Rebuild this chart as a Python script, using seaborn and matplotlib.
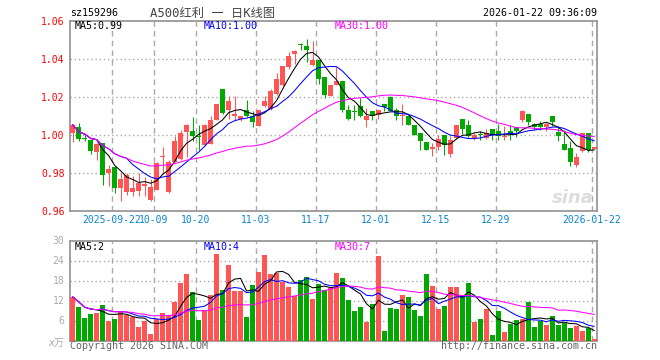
import matplotlib
matplotlib.use('Agg')
import matplotlib.pyplot as plt
import numpy as np
import pandas as pd
import seaborn as sns

# Daily K-line data for sz159296 (88 trading days)
opens = [1.001, 1.0044, 0.9985, 0.9975, 0.991, 0.9958, 0.980, 0.9833, 0.9723, 0.970,
         0.9702, 0.9703, 0.9732, 0.966, 0.9712, 0.9882, 0.9702, 0.9858, 0.9874, 1.0016,
         1.0023, 0.9995, 0.9946, 0.9954, 1.0077, 1.0244, 1.0132, 1.010, 1.0084, 1.0133,
         1.0102, 1.0046, 1.0154, 1.0137, 1.0218, 1.0265, 1.0356, 1.0428, 1.0479, 1.047,
         1.0367, 1.0396, 1.0305, 1.0207, 1.0265, 1.0286, 1.0133, 1.0126, 1.0154, 1.0077,
         1.0125, 1.0107, 1.0165, 1.0198, 1.0133, 1.0098, 1.0102, 1.0054, 1.001, 0.9963,
         0.9928, 0.9937, 1.000, 0.9902, 0.9982, 1.0084, 1.0051, 0.9984, 1.0005, 0.9984,
         1.0033, 1.0023, 0.9988, 1.0019, 1.0042, 1.0077, 1.0112, 1.0058, 1.0058, 1.0042,
         1.0102, 1.0014, 0.9954, 0.9932, 0.9844, 0.9914, 1.001, 0.9926]
highs = [1.0054, 1.0065, 1.000, 0.998, 0.9958, 0.996, 0.9844, 0.9835, 0.980, 0.980,
         0.9782, 0.980, 0.978, 0.9768, 0.9856, 0.9937, 0.987, 0.9993, 1.0028, 1.006,
         1.0096, 1.0054, 1.006, 1.0098, 1.0165, 1.0244, 1.0207, 1.0207, 1.0102, 1.0186,
         1.0125, 1.0133, 1.0204, 1.0242, 1.0326, 1.0365, 1.0435, 1.0449, 1.0484, 1.0505,
         1.0496, 1.0396, 1.0305, 1.0265, 1.0358, 1.0286, 1.016, 1.016, 1.0195, 1.0142,
         1.0125, 1.0133, 1.0165, 1.0204, 1.0142, 1.0165, 1.0102, 1.0054, 1.001, 0.9965,
         0.9958, 1.0002, 1.000, 0.9993, 1.0053, 1.0084, 1.0077, 1.001, 1.0019, 1.0033,
         1.0033, 1.006, 1.0046, 1.0054, 1.0042, 1.0133, 1.0112, 1.0063, 1.0072, 1.0063,
         1.0102, 1.0046, 1.0028, 0.9967, 0.9905, 1.001, 1.001, 0.9937]
lows = [0.9961, 0.997, 0.997, 0.9898, 0.9867, 0.9735, 0.9733, 0.9696, 0.9654, 0.9684,
        0.968, 0.9677, 0.9677, 0.9654, 0.971, 0.980, 0.9696, 0.9856, 0.9867, 0.9882,
        0.997, 0.9923, 0.994, 0.995, 1.0077, 1.011, 1.0084, 1.0077, 1.0072, 1.0095,
        1.004, 1.0046, 1.0147, 1.0133, 1.0212, 1.026, 1.0347, 1.0372, 1.0449, 1.0382,
        1.0361, 1.027, 1.0193, 1.0204, 1.0265, 1.0119, 1.0077, 1.0077, 1.0095, 1.004,
        1.0081, 1.0084, 1.0125, 1.0125, 1.0081, 1.0054, 1.0054, 1.0002, 0.9919, 0.9919,
        0.9888, 0.9923, 0.9896, 0.9884, 0.998, 1.0007, 0.9984, 0.9975, 0.9975, 0.9979,
        0.9975, 0.9975, 0.9972, 0.9975, 0.999, 1.0067, 1.0054, 1.0025, 1.0028, 1.0019,
        1.0046, 0.9967, 0.9919, 0.9839, 0.9832, 0.9909, 0.9909, 0.9926]
closes = [1.0054, 0.998, 0.998, 0.9914, 0.995, 0.9791, 0.9823, 0.9723, 0.977, 0.979,
          0.9723, 0.9746, 0.9744, 0.9728, 0.9854, 0.9891, 0.986, 0.9967, 1.0012, 1.0054,
          0.9993, 0.999, 1.0054, 1.0077, 1.0165, 1.0114, 1.0177, 1.0112, 1.0102, 1.0102,
          1.0067, 1.0133, 1.0177, 1.0233, 1.0296, 1.0365, 1.0418, 1.044, 1.0472, 1.0449,
          1.0396, 1.0295, 1.0211, 1.0265, 1.0286, 1.0133, 1.0084, 1.0122, 1.0098, 1.0102,
          1.0102, 1.0133, 1.0147, 1.0125, 1.0102, 1.0104, 1.0054, 1.0002, 0.9967, 0.9923,
          0.9937, 0.9981, 0.9949, 0.9975, 1.0053, 1.0033, 0.9993, 1.0002, 1.000, 1.001,
          1.0002, 0.9996, 0.9996, 1.0005, 1.0019, 1.0125, 1.0067, 1.0042, 1.0042, 1.0058,
          1.0067, 0.9993, 0.9923, 0.9856, 0.9882, 1.001, 0.9923, 0.9937]
# volume in units of 10k (x万)
volumes = [13.1, 10.1, 6.7, 7.9, 8.3, 10.6, 5.9, 6.4, 8.9, 7.6,
           7.1, 4.0, 5.9, 2.0, 6.6, 8.2, 7.8, 11.5, 17.2, 19.9,
           14.5, 6.1, 9.1, 13.7, 25.9, 15.1, 22.6, 14.8, 14.8, 7.0,
           16.6, 20.5, 25.6, 19.9, 20.2, 17.5, 16.0, 13.5, 18.1, 19.0,
           12.5, 16.9, 15.1, 15.8, 20.2, 18.7, 12.1, 8.8, 10.0, 5.5,
           10.9, 25.3, 2.8, 9.7, 9.4, 13.6, 13.0, 9.1, 7.3, 19.9,
           16.3, 9.4, 10.3, 16.0, 16.0, 13.3, 17.2, 5.5, 6.4, 9.4,
           1.6, 8.8, 2.5, 4.9, 6.1, 6.4, 11.5, 4.0, 5.8, 4.6,
           7.3, 4.6, 5.2, 3.7, 4.3, 2.8, 3.7, 0.4]
date_ticks = [7, 14, 21, 31, 41, 51, 61, 71, 87]
date_labels = ['2025-09-22', '10-09', '10-20', '11-03', '11-17',
               '12-01', '12-15', '12-29', '2026-01-22']

RED = '#ff5555'
GREEN = '#00a800'
GRID = '#aaaaaa'
BLUE_TXT = '#0a84d0'
MONO = ['DejaVu Sans Mono', 'Noto Sans CJK SC']

sns.set_style('white')
plt.rcParams['font.family'] = MONO

df = pd.DataFrame({'o': opens, 'h': highs, 'l': lows, 'c': closes, 'v': volumes})
df['x'] = np.arange(len(df))
df['dir'] = np.where(df['c'] >= df['o'], 'up', 'down')
for n in (5, 10, 30):
    df[f'ma{n}'] = df['c'].rolling(n, min_periods=1).mean()
    df[f'vma{n}'] = df['v'].rolling(n, min_periods=1).mean()

W, H = 660, 360
fig = plt.figure(figsize=(6.6, 3.6), dpi=100)
ax1 = fig.add_axes([70 / W, 1 - 211 / H, 527 / W, 190 / H])
ax2 = fig.add_axes([70 / W, 1 - 340.5 / H, 527 / W, 100 / H])

# candles
cols = np.where(df['dir'] == 'up', RED, GREEN)
ax1.vlines(df['x'], df['l'], df['h'], colors=cols, lw=0.75, zorder=3)
body_lo = np.minimum(df['o'], df['c'])
body_h = np.maximum(np.abs(df['c'] - df['o']), 0.0006)
ax1.bar(df['x'], body_h, bottom=body_lo, width=0.83, color=cols, lw=0, zorder=3)
sns.lineplot(data=df, x='x', y='ma5', color='black', lw=0.75, ax=ax1, zorder=4)
sns.lineplot(data=df, x='x', y='ma10', color='#0000ff', lw=0.75, ax=ax1, zorder=4)
sns.lineplot(data=df, x='x', y='ma30', color='#ff00ff', lw=0.75, ax=ax1, zorder=4)

# volume
sns.barplot(data=df, x='x', y='v', hue='dir', palette={'up': RED, 'down': GREEN},
            dodge=False, native_scale=True, width=0.83, saturation=1, legend=False,
            linewidth=0, ax=ax2, zorder=3)
sns.lineplot(data=df, x='x', y='vma5', color='black', lw=0.75, ax=ax2, zorder=4)
sns.lineplot(data=df, x='x', y='vma10', color='#0000ff', lw=0.75, ax=ax2, zorder=4)
sns.lineplot(data=df, x='x', y='vma30', color='#ff00ff', lw=0.75, ax=ax2, zorder=4)

for ax in (ax1, ax2):
    ax.set_xlim(-0.45, len(df) - 0.55)
    ax.set_xlabel('')
    ax.set_ylabel('')
    for s in ax.spines.values():
        s.set_color('#999999')
        s.set_linewidth(1.3)
    for t in date_ticks:
        ax.axvline(t - 0.45, color=GRID, lw=1, ls=(0, (4, 3)), zorder=1)
    ax.tick_params(length=0, pad=4)

price_levels = [0.96, 0.98, 1.00, 1.02, 1.04, 1.06]
ax1.set_ylim(0.96, 1.06)
ax1.set_yticks(price_levels)
ax1.set_yticklabels([f'{v:.2f}' for v in price_levels], color='red', fontsize=7)
for v in price_levels[1:-1]:
    ax1.axhline(v, color=GRID, lw=1, ls=(0, (1, 2)), zorder=1)
ax1.set_xticks([t - 0.45 for t in date_ticks])
ax1.set_xticklabels(date_labels, color=BLUE_TXT, fontsize=7)
ax1.tick_params(axis='x', pad=3)

vol_levels = [6, 12, 18, 24, 30]
ax2.set_ylim(0, 30)
ax2.set_yticks(vol_levels)
ax2.set_yticklabels([str(v) for v in vol_levels], color='#aaaaaa', fontsize=7)
for v in vol_levels[:-1]:
    ax2.axhline(v, color=GRID, lw=1, ls=(0, (1, 2)), zorder=1)
ax2.set_xticks([])


def px(x, y, s, size=7.2, **kw):
    fig.text(x / W, 1 - y / H, s, va='center', fontsize=size, **kw)


px(70, 13, 'sz159296', color='black')
px(150, 13, 'A500红利 一 日K线图', size=8.8, color='#444444')
px(597, 13, '2026-01-22 09:36:09', color='black', ha='right')

last = df.iloc[-1]
px(75, 26, f"MA5:{last['ma5']:.2f}", color='black')
px(204, 26, f"MA10:{last['ma10']:.2f}", color='#0000ff')
px(335, 26, f"MA30:{last['ma30']:.2f}", color='#ff00ff')
px(75, 247, f"MA5:{int(last['vma5'])}", color='black')
px(204, 247, f"MA10:{int(last['vma10'])}", color='#0000ff')
px(335, 247, f"MA30:{int(last['vma30'])}", color='#ff00ff')

px(48, 343, 'x万', color='#aaaaaa', style='italic')
px(70, 346, 'Copyright 2026 SINA.COM', color='#666666')
px(597, 346, 'http://finance.sina.com.cn', color='#666666', ha='right')
fig.text(594 / W, 1 - 198 / H, 'sina', ha='right', va='center', fontsize=13,
         fontweight='bold', style='italic', color='#dddddd', family='DejaVu Sans')

fig.savefig('out.png', dpi=100)
